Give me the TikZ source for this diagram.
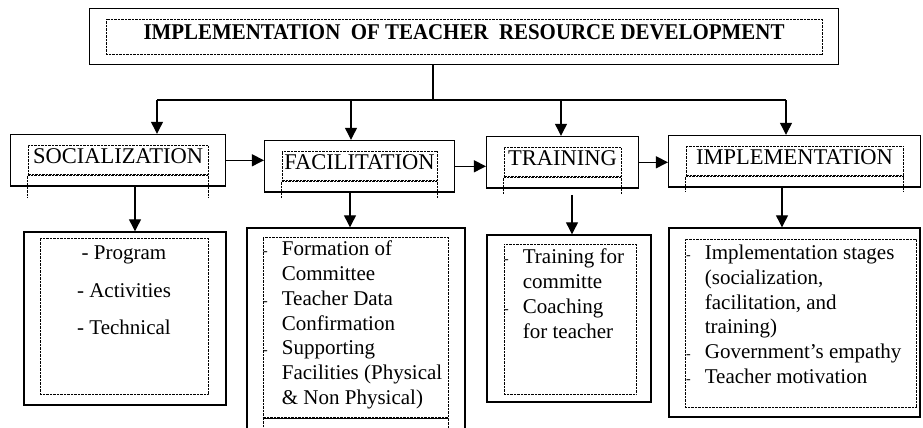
\documentclass[tikz,border=0pt]{standalone}
\usepackage{fontspec}
\setmainfont{Liberation Serif}
\newfontfamily\titlefont{Liberation Serif}[FakeStretch=0.93]
\usetikzlibrary{arrows.meta,positioning,fit}
\newcommand{\dashmark}{\llap{\fontsize{14}{14}\selectfont -\hspace{14pt}}}

\begin{document}
\begin{tikzpicture}[x=1pt,y=-1pt,>={Triangle[length=12pt,width=12pt]},
  outerbox/.style={draw, line width=1.4pt, inner sep=0pt},
  dotbox/.style={draw, line width=0.7pt, dash pattern=on 0.7pt off 0.7pt, inner sep=0pt},
  dotline/.style={line width=0.7pt, dash pattern=on 0.7pt off 0.7pt},
  headbox/.style={dotbox, anchor=north, inner ysep=3pt, text depth=9pt, font=\fontsize{22.5}{26}\selectfont},
  listtext/.style={inner sep=0pt, align=left, font=\fontsize{21}{24.8}\selectfont},
  link/.style={line width=1.2pt}]
  \useasboundingbox (0,0) rectangle (923,428);

  % title box
  \node (titlein) [dotbox, minimum width=716pt, minimum height=35pt, text depth=8pt, font=\fontsize{22.5}{26}\titlefont\bfseries] at (464,36.5) {IMPLEMENTATION\ \ OF TEACHER\ \ RESOURCE DEVELOPMENT};
  \node (title) [outerbox, fit=(titlein), inner xsep=16pt, inner ysep=10pt] {};

  % the four stages
  \node (socin) [headbox, minimum width=180pt] at (118,145) {SOCIALIZATION};
  \node (soc) [outerbox, fit=(socin), inner xsep=17pt, inner ysep=10.5pt] {};
  \node (facin) [headbox, minimum width=155pt] at (359.5,151) {FACILITATION};
  \node (fac) [outerbox, fit=(facin), inner xsep=17pt, inner ysep=10.5pt] {};
  \node (trnin) [headbox, minimum width=117pt] at (562.5,147) {TRAINING};
  \node (trn) [outerbox, fit=(trnin), inner xsep=17pt, inner ysep=10.5pt] {};
  \node (impin) [headbox, minimum width=217pt] at (794.5,146) {IMPLEMENTATION};
  \node (imp) [outerbox, fit=(impin), inner xsep=17pt, inner ysep=10.5pt] {};

  % dotted legs and doubled bottoms under the stage labels
  \draw[dotline] (socin.south west) -- ++(0,22) (socin.south east) -- ++(0,22);
  \draw[dotline] (facin.south west) -- ++(0,16) (facin.south east) -- ++(0,16);
  \draw[dotline] (trnin.south west) -- ++(0,16) (trnin.south east) -- ++(0,16);
  \draw[dotline] (impin.south west) -- ++(0,15) (impin.south east) -- ++(0,15);
  \draw[dotline] ([yshift=1.3pt]socin.south west) -- ([yshift=1.3pt]socin.south east);
  \draw[dotline] ([yshift=1.3pt]facin.south west) -- ([yshift=1.3pt]facin.south east);
  \draw[dotline] ([yshift=1.3pt]trnin.south west) -- ([yshift=1.3pt]trnin.south east);
  \draw[dotline] ([yshift=1.3pt]impin.south west) -- ([yshift=1.3pt]impin.south east);

  % detail boxes
  \node (c1in) [dotbox, minimum width=168pt, minimum height=156pt] at (124,316) {};
  \node (c1) [outerbox, minimum width=202pt, minimum height=173pt] at (125,318.5) {};
  \node (c1txt) [below=8pt of c1in.north, inner sep=0pt, align=center, font=\fontsize{21}{37.5}\selectfont] {- Program\\- Activities\\- Technical};

  \node (c2in) [dotbox, minimum width=185pt, minimum height=181pt] at (355.5,327.5) {};
  \node (c2low) [dotbox, below=0pt of c2in, minimum width=185pt, minimum height=30pt] {};
  \node (c2) [outerbox, minimum width=218pt, minimum height=220pt] at (356,338) {};
  \draw[dotline] ([yshift=1.3pt]c2in.south west) -- ([yshift=1.3pt]c2in.south east);
  \node (c2txt) [listtext, below right=4pt and 19pt of c2in.north west] {\dashmark Formation of\\ Committee\\ \dashmark Teacher Data\\ Confirmation\\ \dashmark Supporting\\ Facilities (Physical\\ \& Non Physical)};

  \node (c3in) [dotbox, minimum width=132pt, minimum height=150pt] at (570,319) {};
  \node (c3) [outerbox, minimum width=164pt, minimum height=167pt] at (569,318.5) {};
  \node (c3txt) [listtext, below right=5pt and 19pt of c3in.north west] {\dashmark Training for\\ committe\\ \dashmark Coaching\\ for teacher};

  \node (c4in) [dotbox, minimum width=231pt, minimum height=168pt] at (800.5,323) {};
  \node (c4) [outerbox, minimum width=251pt, minimum height=189pt] at (794.5,322.5) {};
  \node (c4txt) [listtext, below right=6pt and 20pt of c4in.north west] {\dashmark Implementation stages\\ (socialization,\\ facilitation, and\\ training)\\ \dashmark Government's empathy\\ \dashmark Teacher motivation};

  % bus from the title
  \coordinate (bus) at (433,100);
  \coordinate (bus1) at (157,100);
  \coordinate (bus2) at (351,100);
  \coordinate (bus3) at (561,100);
  \coordinate (bus4) at (786,100);
  \draw[link] (title.south -| bus) -- (bus);
  \draw[link] (bus1) -- (bus4);
  \draw[link,->] (bus1) -- (bus1 |- soc.north);
  \draw[link,->] (bus2) -- (bus2 |- fac.north);
  \draw[link,->] (bus3) -- (bus3 |- trn.north);
  \draw[link,->] (bus4) -- (bus4 |- imp.north);

  % stage to stage
  \draw[link,->] (soc.east) -- (soc.east -| fac.west);
  \draw[link,->] (fac.east) -- (fac.east -| trn.west);
  \draw[link,->] (trn.east) -- (trn.east -| imp.west);

  % stage to details
  \coordinate (col1) at (135,0);
  \coordinate (col2) at (350,0);
  \coordinate (col3) at (572,0);
  \coordinate (col4) at (782,0);
  \draw[link,->] (col1 |- soc.south) -- (col1 |- c1.north);
  \draw[link,->] (col2 |- fac.south) -- (col2 |- c2.north);
  \draw[link,->,shorten <=6pt] (col3 |- trn.south) -- (col3 |- c3.north);
  \draw[link,->] (col4 |- imp.south) -- (col4 |- c4.north);
\end{tikzpicture}
\end{document}
